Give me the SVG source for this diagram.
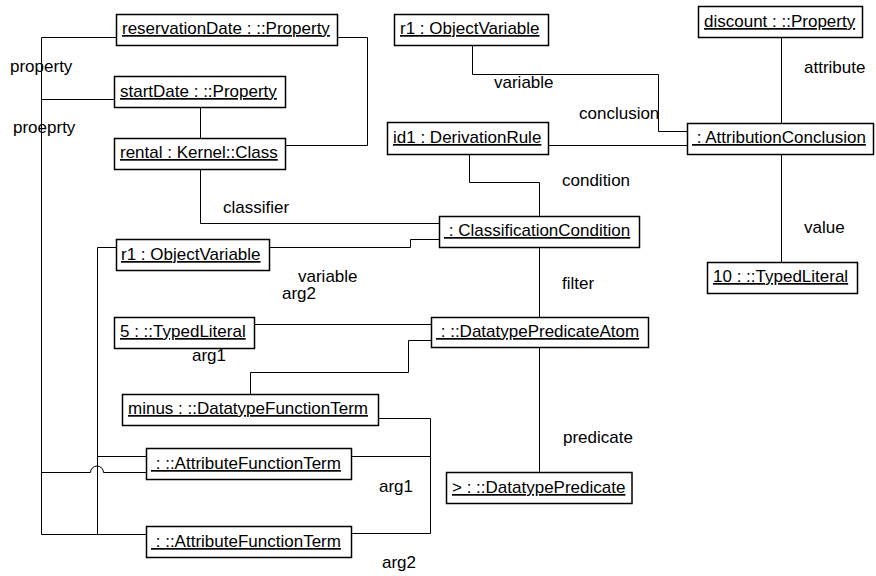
<svg xmlns="http://www.w3.org/2000/svg" width="876" height="576" viewBox="0 0 876 576">
<style>
.box{fill:#fff;stroke:#000;stroke-width:1.5}
.nt{font-family:"Liberation Sans",Arial,sans-serif;font-size:17px;fill:#000;text-decoration:underline}
.lb{font-family:"Liberation Sans",Arial,sans-serif;font-size:17px;fill:#000}
.cn{fill:none;stroke:#000;stroke-width:1}
</style>
<rect width="876" height="576" fill="#fff"/>
<g id="connectors">
<path class="cn" d="M116.5,37.5 H41.5 V534.5 H146"/>
<path class="cn" d="M114.5,99.5 H41.5 V472.5 H90.5 A6.5,6.5 0 0 1 103.5,472.5 H146"/>
<path class="cn" d="M338,37.5 H367.5 V145.5 H285"/>
<path class="cn" d="M200.5,107 V138"/>
<path class="cn" d="M200.5,169 V223.5 H439"/>
<path class="cn" d="M269,247.5 H410.5 V239.5 H439"/>
<path class="cn" d="M116,247.5 H97.5 V534.5 H146"/>
<path class="cn" d="M97.5,456.5 H146"/>
<path class="cn" d="M469.5,154 V182.5 H539.5 V216"/>
<path class="cn" d="M548,145.5 H687"/>
<path class="cn" d="M472.5,45 V74.5 H658.5 V131.5 H687"/>
<path class="cn" d="M781.5,37 V123"/>
<path class="cn" d="M781.5,154 V262"/>
<path class="cn" d="M539.5,247 V317"/>
<path class="cn" d="M539.5,347 V472"/>
<path class="cn" d="M254,324.5 H431"/>
<path class="cn" d="M250.5,394 V372.5 H408.5 V340.5 H431"/>
<path class="cn" d="M378,418.5 H430.5 V533.5 H351"/>
<path class="cn" d="M351,456.5 H430.5"/>
<text class="lb" x="10" y="72">property</text>
<text class="lb" x="13" y="133">proeprty</text>
<text class="lb" x="223" y="213">classifier</text>
<text class="lb" x="298" y="282">variable</text>
<text class="lb" x="282" y="299">arg2</text>
<text class="lb" x="192" y="361">arg1</text>
<text class="lb" x="494" y="88">variable</text>
<text class="lb" x="579" y="119">conclusion</text>
<text class="lb" x="562" y="186">condition</text>
<text class="lb" x="804" y="73">attribute</text>
<text class="lb" x="804" y="233">value</text>
<text class="lb" x="562" y="289">filter</text>
<text class="lb" x="563" y="443">predicate</text>
<text class="lb" x="379" y="492">arg1</text>
<text class="lb" x="382" y="568">arg2</text>
</g>
<g id="reservationDate"><rect class="box" x="116.5" y="14.5" width="221" height="31"/><text class="nt" x="122" y="34">reservationDate : ::Property</text></g>
<g id="startDate"><rect class="box" x="114.5" y="76.5" width="171" height="31"/><text class="nt" x="120" y="97">startDate : ::Property</text></g>
<g id="rental"><rect class="box" x="114.5" y="138.5" width="171" height="31"/><text class="nt" x="120" y="158">rental : Kernel::Class</text></g>
<g id="r1top"><rect class="box" x="394.5" y="14.5" width="154" height="31"/><text class="nt" x="400" y="34">r1 : ObjectVariable</text></g>
<g id="id1"><rect class="box" x="387.5" y="122.5" width="161" height="32"/><text class="nt" x="393" y="143">id1 : DerivationRule</text></g>
<g id="discount"><rect class="box" x="698.5" y="6.5" width="164" height="31"/><text class="nt" x="704" y="27">discount : ::Property</text></g>
<g id="attributionConclusion"><rect class="box" x="687.5" y="123.5" width="186" height="31"/><text class="nt" x="692" y="143">&#160;: AttributionConclusion</text></g>
<g id="classificationCondition"><rect class="box" x="439.5" y="216.5" width="200" height="31"/><text class="nt" x="444" y="236">&#160;: ClassificationCondition</text></g>
<g id="r1low"><rect class="box" x="116.5" y="239.5" width="153" height="31"/><text class="nt" x="121" y="260">r1 : ObjectVariable</text></g>
<g id="five"><rect class="box" x="114.5" y="317.5" width="140" height="31"/><text class="nt" x="120" y="337">5 : ::TypedLiteral</text></g>
<g id="datatypePredicateAtom"><rect class="box" x="431.5" y="317.5" width="217" height="30"/><text class="nt" x="436" y="337">&#160;: ::DatatypePredicateAtom</text></g>
<g id="ten"><rect class="box" x="707.5" y="262.5" width="150" height="31"/><text class="nt" x="713" y="282">10 : ::TypedLiteral</text></g>
<g id="minus"><rect class="box" x="122.5" y="394.5" width="256" height="31"/><text class="nt" x="128" y="414">minus : ::DatatypeFunctionTerm</text></g>
<g id="attrFT1"><rect class="box" x="146.5" y="448.5" width="205" height="31"/><text class="nt" x="151" y="469">&#160;: ::AttributeFunctionTerm</text></g>
<g id="attrFT2"><rect class="box" x="146.5" y="526.5" width="205" height="31"/><text class="nt" x="151" y="547">&#160;: ::AttributeFunctionTerm</text></g>
<g id="datatypePredicate"><rect class="box" x="446.5" y="472.5" width="185.5" height="31"/><text class="nt" x="452" y="493">&gt; : ::DatatypePredicate</text></g>
</svg>
